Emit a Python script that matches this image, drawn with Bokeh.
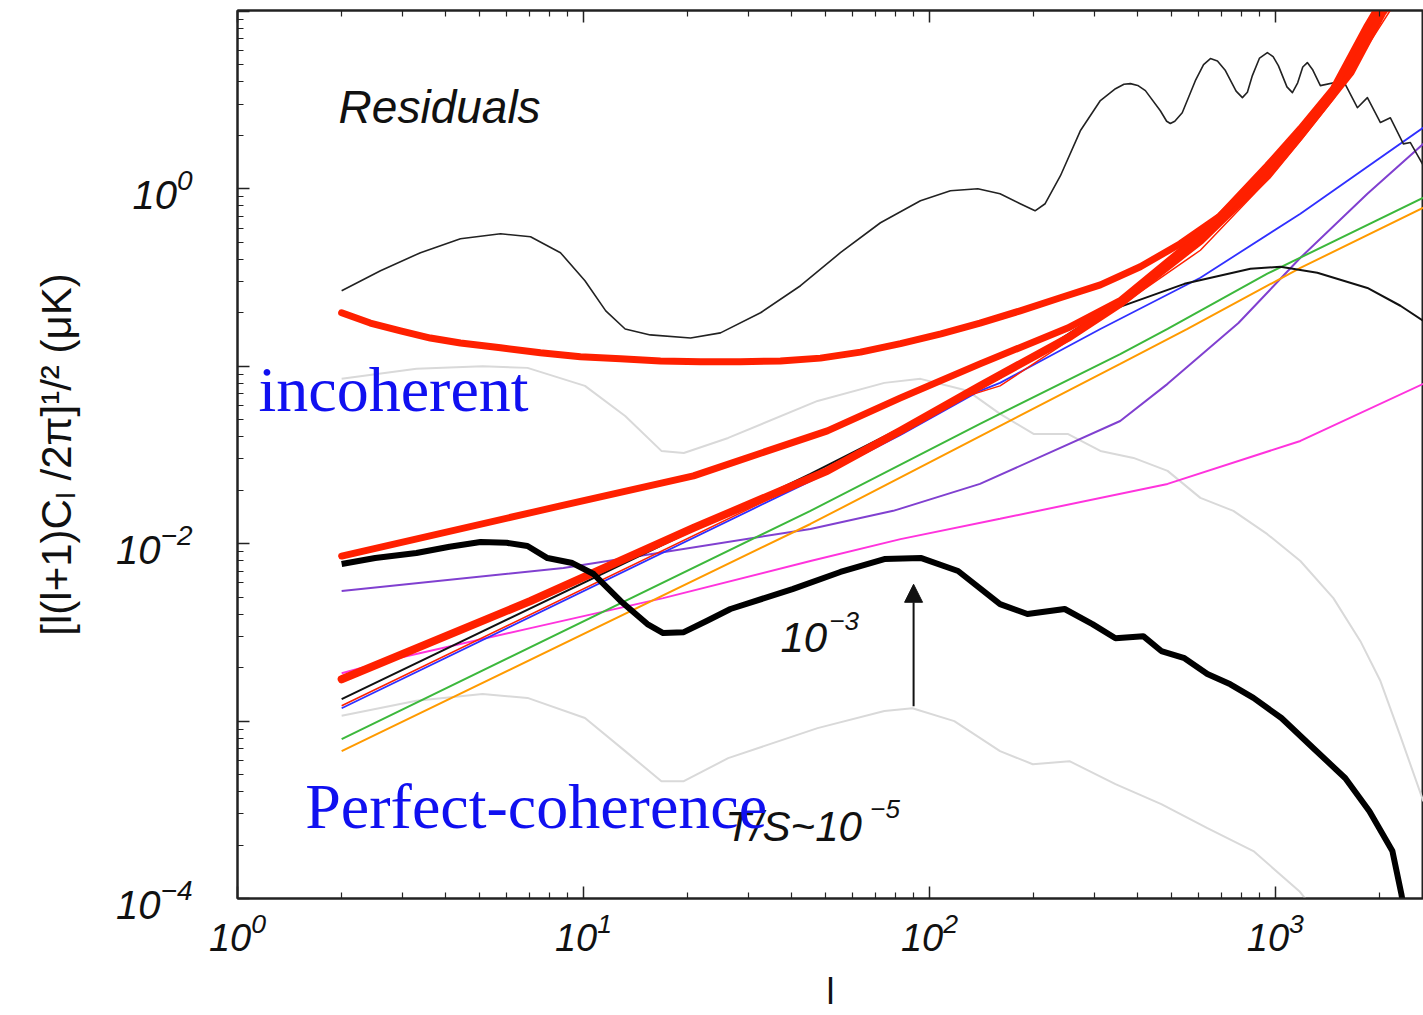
from bokeh.plotting import figure
from bokeh.models import LogAxis, FixedTicker, Label, Arrow, NormalHead
from bokeh.embed import file_html
from bokeh.resources import INLINE

# ---------------- data ----------------
# multipole l and amplitude [l(l+1)C_l/2pi]^1/2 (muK)
res_l = [2.0, 2.59, 3.38, 4.41, 5.76, 7.03, 8.58, 10.1, 11.6, 13.2, 15.6, 20.4, 24.9, 32.5, 42.4,
         55.3, 72.2, 94.2, 115, 138, 160, 183, 202, 216, 239, 273, 312, 345, 365, 381, 400, 421,
         465, 485, 497, 512, 538, 587, 620, 649, 680, 717, 770, 803, 830, 858, 900, 948, 985,
         1020, 1080, 1120, 1160, 1200, 1237, 1280, 1349, 1572, 1726, 1845, 2012, 2150, 2344,
         2456, 2678]
res_v = [0.266, 0.345, 0.436, 0.522, 0.557, 0.536, 0.436, 0.303, 0.205, 0.162, 0.150, 0.144, 0.154,
         0.200, 0.284, 0.436, 0.643, 0.856, 0.974, 1.00, 0.937, 0.823, 0.751, 0.823, 1.18, 2.12,
         3.14, 3.66, 3.88, 3.91, 3.82, 3.57, 2.75, 2.40, 2.33, 2.40, 2.68, 4.06, 5.00, 5.41, 5.25,
         4.63, 3.55, 3.26, 3.50, 4.34, 5.45, 5.85, 5.55, 4.94, 3.75, 3.48, 3.95, 4.85, 5.14, 4.70,
         3.81, 4.06, 2.86, 3.26, 2.36, 2.51, 1.79, 1.82, 1.35]

tb_l = [2.0, 2.5, 3.29, 4.1, 5.04, 6.0, 6.89, 7.87, 9.29, 10.7, 12.8, 15.3, 17.0, 19.5, 22.7, 26.6,
        40.2, 55.3, 74.1, 94.8, 121, 160, 192, 246, 296, 345, 415, 468, 546, 636, 741, 864, 1041,
        1288, 1593, 1870, 2179, 2313, 2400]
tb_v = [0.00767, 0.00830, 0.00885, 0.00960, 0.0102, 0.0101, 0.00969, 0.00829, 0.00777, 0.00674,
        0.00475, 0.00352, 0.00313, 0.00317, 0.00366, 0.00428, 0.00554, 0.00692, 0.00818, 0.00829,
        0.00701, 0.00456, 0.00401, 0.00428, 0.00352, 0.00293, 0.00301, 0.00248, 0.00226, 0.00184,
        0.00161, 0.00135, 0.00104, 0.000703, 0.000476, 0.000310, 0.000185, 0.000106, 0.00007]

gu_l = [2.0, 3.29, 5.11, 6.89, 10.1, 13.2, 16.8, 19.5, 26.2, 47.5, 74.1, 94.2, 129, 160, 200, 251,
        312, 389, 488, 607, 756, 948, 1181, 1471, 1761, 2012, 2298, 2678]
gu_v = [0.0848, 0.0966, 0.100, 0.0978, 0.0774, 0.0524, 0.0333, 0.0324, 0.0394, 0.0637, 0.0805,
        0.0848, 0.0726, 0.0538, 0.0415, 0.0415, 0.0333, 0.0304, 0.0257, 0.0181, 0.0153, 0.0113,
        0.00798, 0.00493, 0.00282, 0.00168, 0.000822, 0.000353]

gl_l = [2.0, 3.29, 5.11, 6.89, 10.1, 13.2, 16.8, 19.5, 26.2, 47.5, 74.1, 89.3, 118, 160, 199, 254,
        345, 468, 636, 864, 1173, 1305]
gl_v = [0.00107, 0.00130, 0.00142, 0.00135, 0.00104, 0.000677, 0.000458, 0.000458, 0.000618,
        0.000912, 0.00114, 0.00118, 0.000999, 0.000677, 0.000571, 0.000594, 0.000441, 0.000340,
        0.000249, 0.000185, 0.000110, 0.0000847]

r1_l = [2.0, 2.42, 2.96, 3.61, 4.41, 5.76, 7.51, 9.80, 12.8, 16.7, 21.8, 28.4, 37.1, 48.4, 63.2,
        82.5, 108, 140, 183, 239, 312, 407, 531, 693, 948, 1181, 1471, 1845, 2079]
r1_v = [0.200, 0.175, 0.158, 0.144, 0.135, 0.127, 0.119, 0.113, 0.110, 0.107, 0.106, 0.106, 0.107,
        0.111, 0.120, 0.134, 0.152, 0.175, 0.205, 0.243, 0.287, 0.363, 0.490, 0.704, 1.35, 2.18,
        3.66, 8.31, 12.3]

r2_l = [2.0, 8.58, 20.8, 50.7, 82.5, 140, 251, 356, 607, 948, 1181, 1648, 1985, 2195]
r2_v = [0.00851, 0.0163, 0.0241, 0.0432, 0.0663, 0.103, 0.164, 0.234, 0.550, 1.26, 2.12, 4.75,
        9.46, 12.3]

r3_l = [2.0, 7.03, 20.8, 50.7, 82.5, 140, 251, 356, 607, 948, 1181, 1648, 2038, 2222]
r3_v = [0.00172, 0.00475, 0.01225, 0.0257, 0.0432, 0.0774, 0.144, 0.225, 0.509, 1.18, 1.99, 4.51,
        9.83, 12.3]

r4_l = [2.0, 45.3, 129, 160, 312, 607, 948, 1181, 1471, 2195]
r4_v = [0.00122, 0.0231, 0.0680, 0.0774, 0.183, 0.45, 1.12, 1.87, 3.2, 10.8]

k2_l = [2.0, 45.3, 160, 268, 312, 546, 847, 1034, 1322, 1845, 2298, 2678]
k2_v = [0.00133, 0.0247, 0.0859, 0.164, 0.197, 0.291, 0.354, 0.363, 0.336, 0.276, 0.219, 0.180]

blue_l = [2.0, 45.3, 82.5, 140, 160, 312, 607, 1181, 2678]
blue_v = [0.00118, 0.0225, 0.0410, 0.0726, 0.0805, 0.162, 0.315, 0.723, 2.21]

green_l = [2.0, 45.3, 140, 356, 488, 948, 2678]
green_v = [0.000790, 0.0153, 0.0473, 0.117, 0.162, 0.332, 0.890]

orange_l = [2.0, 45.3, 356, 557, 1181, 2678]
orange_v = [0.000677, 0.0129, 0.103, 0.162, 0.358, 0.781]

violet_l = [2.0, 8.75, 45.3, 78.6, 140, 356, 488, 782, 1181, 1845, 2678]
violet_v = [0.00540, 0.00729, 0.0121, 0.0153, 0.0217, 0.0491, 0.0795, 0.175, 0.408, 0.937, 1.79]

mag_l = [2.0, 2.90, 7.03, 17.0, 45.3, 82.5, 160, 488, 1181, 2678]
mag_v = [0.00186, 0.00226, 0.00334, 0.00493, 0.00798, 0.0106, 0.0138, 0.0217, 0.0379, 0.0795]

x_major = [1.0, 10.0, 100.0, 1000.0]
x_minor = [m * d for d in (1.0, 10.0, 100.0, 1000.0) for m in range(2, 10)]
y_major = [1e-4, 1e-3, 1e-2, 1e-1, 1.0, 10.0]
y_minor = [m * d for d in (1e-4, 1e-3, 1e-2, 1e-1, 1.0) for m in range(2, 10)]
y_unlabelled = [1e-3, 1e-1, 10.0]

# ---------------- figure ----------------
p = figure(width=1423, height=1015, x_axis_type="log", y_axis_type="log",
           x_range=(1, 2680), y_range=(1e-4, 10.1),
           output_backend="svg", toolbar_location=None,
           min_border_left=237, min_border_right=0, min_border_top=10, min_border_bottom=117)
p.xgrid.visible = False
p.ygrid.visible = False
p.outline_line_color = "#222222"
p.outline_line_width = 2
p.background_fill_color = "white"
p.border_fill_color = "white"

bottom = p.below[0]
left = p.left[0]

bottom.ticker = FixedTicker(ticks=x_major, minor_ticks=x_minor)
left.ticker = FixedTicker(ticks=y_major, minor_ticks=y_minor)
left.major_label_overrides = {v: " " for v in y_unlabelled}

top = LogAxis(ticker=FixedTicker(ticks=x_major, minor_ticks=x_minor),
              major_label_text_font_size="1px", major_label_text_alpha=0,
              major_label_standoff=0)
p.add_layout(top, "above")

for ax in [bottom, left, top]:
    ax.major_tick_in = 12
    ax.major_tick_out = 0
    ax.minor_tick_in = 6
    ax.minor_tick_out = 0
    ax.major_tick_line_color = "#222222"
    ax.minor_tick_line_color = "#222222"
    ax.major_tick_line_width = 1.5
    ax.minor_tick_line_width = 1.2
    ax.axis_line_color = "#222222"
    ax.axis_line_width = 2

for ax in [bottom, left]:
    ax.major_label_text_font = "Liberation Sans"
    ax.major_label_text_font_style = "italic"
    ax.major_label_text_font_size = "38px"
    ax.major_label_text_color = "#111111"
left.major_label_text_font_size = "40px"

bottom.major_label_standoff = 13
left.major_label_standoff = 45

left.axis_label = "[l(l+1)Cₗ /2π]¹/² (μK)"
left.axis_label_text_font = "Liberation Sans"
left.axis_label_text_font_style = "normal"
left.axis_label_text_font_size = "42px"
left.axis_label_text_color = "#111111"
left.axis_label_standoff = 33

bottom.axis_label = "l"
bottom.axis_label_text_font = "Liberation Sans"
bottom.axis_label_text_font_style = "normal"
bottom.axis_label_text_font_size = "36px"
bottom.axis_label_text_color = "#111111"
bottom.axis_label_standoff = 17

# ---------------- curves ----------------
GRAY = "#d9d9d9"
RED = "#ff2000"
p.line(gl_l, gl_v, line_color=GRAY, line_width=2)
p.line(gu_l, gu_v, line_color=GRAY, line_width=2)
p.line(mag_l, mag_v, line_color="#ff33dd", line_width=2)
p.line(violet_l, violet_v, line_color="#8040d0", line_width=2)
p.line(orange_l, orange_v, line_color="#ff9a00", line_width=2)
p.line(green_l, green_v, line_color="#3cb83c", line_width=2)
p.line(blue_l, blue_v, line_color="#3030ff", line_width=1.8)
p.line(r4_l, r4_v, line_color=RED, line_width=1.5)
p.line(k2_l, k2_v, line_color="#111111", line_width=2)
p.line(res_l, res_v, line_color="#222222", line_width=1.6, line_join="round")
p.line(r3_l, r3_v, line_color=RED, line_width=8, line_cap="round", line_join="round")
p.line(r2_l, r2_v, line_color=RED, line_width=7, line_cap="round", line_join="round")
p.line(r1_l, r1_v, line_color=RED, line_width=7, line_cap="round", line_join="round")
p.line(tb_l, tb_v, line_color="#000000", line_width=6, line_join="round")

# ---------------- annotations ----------------
p.add_layout(Arrow(end=NormalHead(size=18, fill_color="#111111", line_color="#111111"),
                   x_start=90, y_start=0.00121, x_end=90, y_end=0.0059,
                   line_width=2, line_color="#111111"))

def lab(x, y, text, size, font="Liberation Sans", style="italic", color="#111111"):
    p.add_layout(Label(x=x, y=y, text=text, text_font=font, text_font_style=style,
                       text_font_size=size, text_color=color, text_baseline="alphabetic",
                       text_align="left"))

lab(1.96, 2.9, "Residuals", "46px")
lab(37.1, 0.00294, "10", "42px")
lab(51.4, 0.00364, "−3", "26px")
lab(25.7, 0.000255, "T/S~10", "42px")
lab(67.5, 0.000321, "−5", "26px")
lab(1.15, 0.0735, "incoherent", "64px", font="Liberation Serif", style="normal", color="#1010f0")
lab(1.57, 0.000331, "Perfect-coherence", "64px", font="Liberation Serif", style="normal",
    color="#1010f0")

open("out.html", "w").write(file_html(p, INLINE))
